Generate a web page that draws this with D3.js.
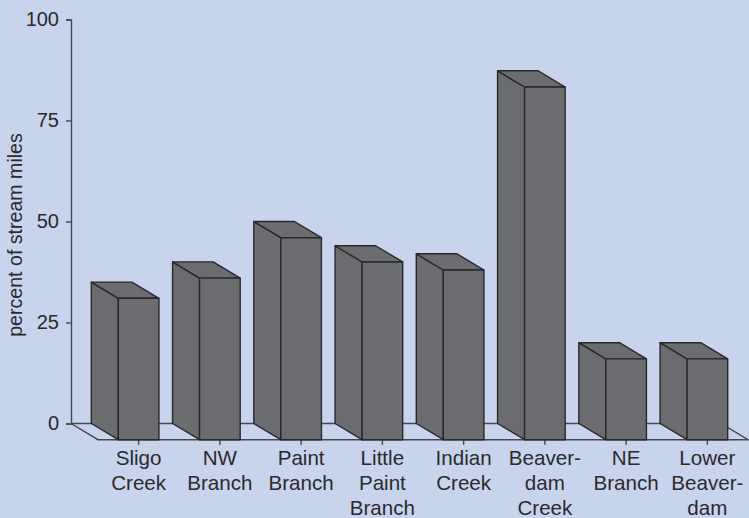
<!DOCTYPE html>
<html>
<head>
<meta charset="utf-8">
<script src="https://cdn.jsdelivr.net/npm/d3@7"></script>
<style>
  html, body { margin: 0; padding: 0; background: #c7d4eb; }
  svg { display: block; }
  text { font-family: "Liberation Sans", Arial, sans-serif; fill: #2b2a2c; }
</style>
</head>
<body>
<svg id="chart" width="749" height="518"></svg>
<script>
// Share of stream miles per watershed
const categories = ["Sligo", "NW", "Paint", "Little", "Indian", "Beaver", "NE", "Lower"];
const labelLines = [
  ["Sligo", "Creek"],
  ["NW", "Branch"],
  ["Paint", "Branch"],
  ["Little", "Paint", "Branch"],
  ["Indian", "Creek"],
  ["Beaver-", "dam", "Creek"],
  ["NE", "Branch"],
  ["Lower", "Beaver-", "dam"]
];
const values = [35, 40, 50, 44, 42, 87.3, 20, 20];
const yTicks = [0, 25, 50, 75, 100];
const yTitle = "percent of stream miles";

const svg = d3.select("#chart");
const axisColor = "#47474c";
const edgeColor = "#29292c";
const faceColor = "#6b6c6f";

// Oblique offset between the back and front planes of the floor
const depthX = 27, depthY = 16.2;
const axisX = 71, baseY = 423.5, topY = 19.5, floorRight = 748;

const y = d3.scaleLinear().domain([0, 100]).range([baseY, topY]);
const x = d3.scaleBand().domain(categories)
  .range([axisX + depthX, floorRight]).paddingInner(0.5).paddingOuter(0.25);

// Floor outline
svg.append("path")
  .attr("d", d3.line()([
    [axisX, baseY],
    [floorRight - depthX, baseY],
    [floorRight, baseY + depthY],
    [axisX + depthX, baseY + depthY],
    [axisX, baseY]
  ]))
  .attr("fill", "none")
  .attr("stroke", axisColor)
  .attr("stroke-width", 1.4);

// Value axis along the back plane
const yAxis = svg.append("g")
  .attr("transform", `translate(${axisX},0)`)
  .call(d3.axisLeft(y).tickValues(yTicks).tickSize(5).tickPadding(7));
yAxis.selectAll("path, line").attr("stroke", axisColor).attr("stroke-width", 1.4);
yAxis.selectAll("text")
  .style("font-family", '"Liberation Sans", Arial, sans-serif')
  .style("font-size", "20px")
  .attr("fill", "#2b2a2c");

// Category ticks below the front edge
const xAxis = svg.append("g")
  .attr("transform", `translate(0,${baseY + depthY})`)
  .call(d3.axisBottom(x).tickSize(5).tickFormat(""));
xAxis.select("path").remove();
xAxis.selectAll("line").attr("stroke", axisColor).attr("stroke-width", 1.4);

// Oblique columns: side, top and front faces
const bars = svg.append("g").selectAll("g")
  .data(categories.map((c, i) => ({ c, v: values[i] })))
  .join("g")
  .attr("fill", faceColor)
  .attr("stroke", edgeColor)
  .attr("stroke-width", 1.4)
  .attr("stroke-linejoin", "round");

const poly = pts => d3.line()(pts) + "Z";

bars.append("path").attr("d", d => {
  const l = x(d.c), f = y(0) + depthY, t = y(d.v) + depthY;
  return poly([[l, f], [l, t], [l - depthX, t - depthY], [l - depthX, f - depthY]]);
});
bars.append("path").attr("d", d => {
  const l = x(d.c), r = l + x.bandwidth(), t = y(d.v) + depthY;
  return poly([[l, t], [r, t], [r - depthX, t - depthY], [l - depthX, t - depthY]]);
});
bars.append("rect")
  .attr("x", d => x(d.c))
  .attr("y", d => y(d.v) + depthY)
  .attr("width", x.bandwidth())
  .attr("height", d => y(0) - y(d.v));

// Multi-line category labels
const labels = svg.append("g").selectAll("text")
  .data(categories.map((c, i) => ({ c, lines: labelLines[i] })))
  .join("text")
  .attr("text-anchor", "middle")
  .style("font-size", "20.6px");
labels.selectAll("tspan")
  .data(d => d.lines.map((t, i) => ({ t, i, c: d.c })))
  .join("tspan")
  .attr("x", d => x(d.c) + x.bandwidth() / 2)
  .attr("y", d => 465 + d.i * 25)
  .text(d => d.t);

// Value axis title
svg.append("text")
  .attr("transform", "translate(22,235) rotate(-90)")
  .attr("text-anchor", "middle")
  .style("font-size", "19.6px")
  .text(yTitle);
</script>
</body>
</html>
